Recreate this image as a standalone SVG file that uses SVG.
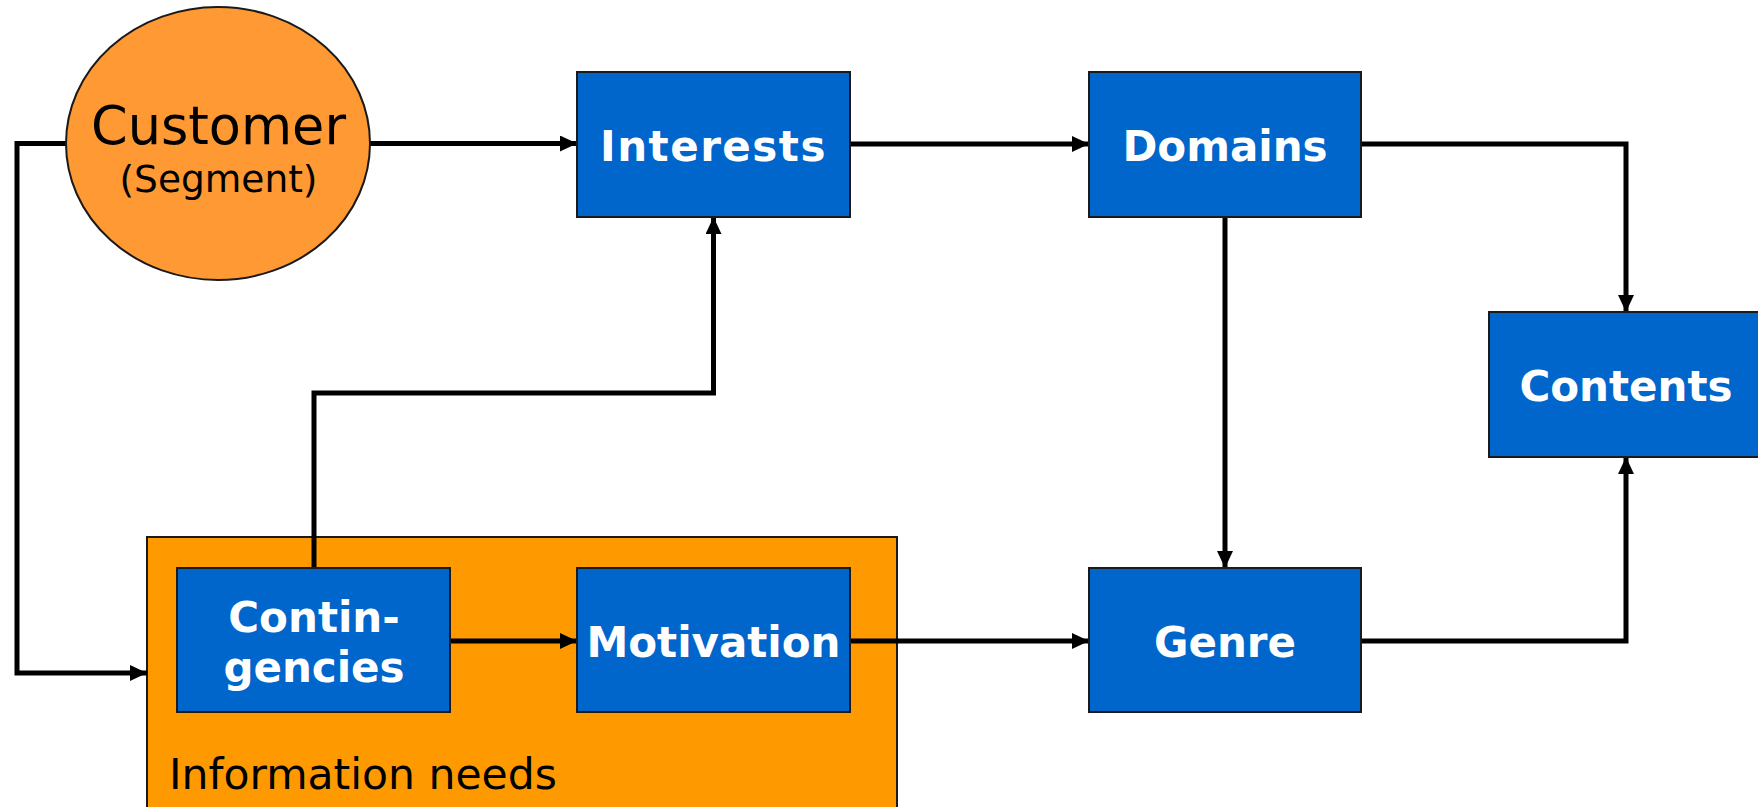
<svg xmlns="http://www.w3.org/2000/svg" width="1758" height="807" viewBox="0 0 1758 807">
  <style>
    .box { fill: #0066CC; stroke: #1a1a1a; stroke-width: 2; }
    .lbl { font-family: "DejaVu Sans", Verdana, sans-serif; font-weight: bold; font-size: 42px; fill: #ffffff; text-anchor: middle; }
    .dark { font-family: "DejaVu Sans", Verdana, sans-serif; fill: #000000; }
    .wire { fill: none; stroke: #000000; stroke-width: 5; stroke-linejoin: miter; }
  </style>
  <defs>
    <marker id="arrow" viewBox="0 0 17 16" refX="17" refY="8" markerWidth="17" markerHeight="16" markerUnits="userSpaceOnUse" orient="auto">
      <path d="M0,0 L17,8 L0,16 Z" fill="#000000"/>
    </marker>
  </defs>

  <rect width="1758" height="807" fill="#ffffff"/>

  <!-- container for the information-needs group -->
  <g id="information-needs">
    <rect x="147" y="537" width="750" height="290" fill="#FF9900" stroke="#1a1a1a" stroke-width="2"/>
    <text class="dark" x="169" y="789" font-size="42.5">Information needs</text>
  </g>

  <!-- connectors -->
  <g id="connectors">
    <path class="wire" d="M370,143.5 H577" marker-end="url(#arrow)"/>
    <path class="wire" d="M66,143.5 H17 V673 H147" marker-end="url(#arrow)"/>
    <path class="wire" d="M850,144 H1089" marker-end="url(#arrow)"/>
    <path class="wire" d="M1361,144 H1626 V312" marker-end="url(#arrow)"/>
    <path class="wire" d="M1225,217 V568" marker-end="url(#arrow)"/>
    <path class="wire" d="M314,568 V393 H713.5 V217" marker-end="url(#arrow)"/>
    <path class="wire" d="M450,641 H577" marker-end="url(#arrow)"/>
    <path class="wire" d="M850,641 H1089" marker-end="url(#arrow)"/>
    <path class="wire" d="M1361,641 H1626 V457" marker-end="url(#arrow)"/>
  </g>

  <g id="customer">
    <ellipse cx="218" cy="143.5" rx="152" ry="136.5" fill="#FF9933" stroke="#1a1a1a" stroke-width="2"/>
    <text class="dark" x="218.5" y="143.5" font-size="52.5" text-anchor="middle">Customer</text>
    <text class="dark" x="218.5" y="192" font-size="37.5" text-anchor="middle">(Segment)</text>
  </g>

  <g id="interests">
    <rect class="box" x="577" y="72" width="273" height="145"/>
    <text class="lbl" x="713.5" y="161" letter-spacing="1.5">Interests</text>
  </g>

  <g id="domains">
    <rect class="box" x="1089" y="72" width="272" height="145"/>
    <text class="lbl" x="1225" y="161">Domains</text>
  </g>

  <g id="contents">
    <rect class="box" x="1489" y="312" width="274" height="145"/>
    <text class="lbl" x="1626" y="401">Contents</text>
  </g>

  <g id="contingencies">
    <rect class="box" x="177" y="568" width="273" height="144"/>
    <text class="lbl" x="314" y="632">Contin-</text>
    <text class="lbl" x="314" y="682">gencies</text>
  </g>

  <g id="motivation">
    <rect class="box" x="577" y="568" width="273" height="144"/>
    <text class="lbl" x="713.5" y="657">Motivation</text>
  </g>

  <g id="genre">
    <rect class="box" x="1089" y="568" width="272" height="144"/>
    <text class="lbl" x="1225" y="657">Genre</text>
  </g>
</svg>
